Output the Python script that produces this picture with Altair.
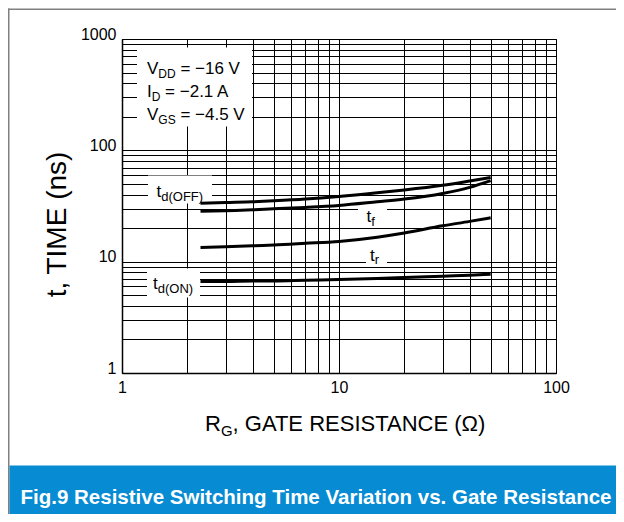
import altair as alt
import pandas as pd

# ---------------- data ----------------
R_G = [2.3, 3, 4, 5, 7, 10, 15, 20, 30, 40, 50]
t_d_off = [33.5, 34.0, 34.5, 35.2, 36.5, 38.5, 41.5, 44.0, 48.5, 53.0, 57.0]
t_f = [28.3, 28.7, 29.2, 29.8, 30.7, 32.0, 34.5, 36.5, 41.0, 46.5, 53.5]
t_r = [13.4, 13.6, 13.9, 14.1, 14.6, 15.2, 16.6, 18.1, 21.0, 23.0, 24.8]
t_d_on = [6.65, 6.65, 6.7, 6.7, 6.8, 6.9, 7.05, 7.2, 7.4, 7.55, 7.7]

x_grid = [1, 2, 3, 4, 5, 6, 7, 8, 9, 10, 20, 30, 40, 50, 60, 70, 80, 90, 100]
y_grid = [1, 2, 3, 4, 5, 6, 7, 8, 9, 10, 20, 30, 40, 50, 60, 70, 80, 90,
          100, 200, 300, 400, 500, 600, 700, 800, 900, 1000]
x_labels = [1, 10, 100]
y_labels = [1, 10, 100, 1000]

conditions = [("V", "DD", " = \u221216 V"), ("I", "D", " = \u22122.1 A"), ("V", "GS", " = \u22124.5 V")]
caption = "Fig.9 Resistive Switching Time Variation vs. Gate Resistance"

rows = []
for name, vals in [("td_off", t_d_off), ("tf", t_f), ("tr", t_r), ("td_on", t_d_on)]:
    for r, t in zip(R_G, vals):
        rows.append({"series": name, "R": r, "t": t})
df = pd.DataFrame(rows)

FONT = "Liberation Sans"
OX, OY = 122, 38.5  # page position of the plot origin

# Arial-compatible advance widths (1/1000 em)
W = {" ": 278, "=": 584, "\u2212": 584, ".": 278, ",": 278, "(": 333, ")": 333,
     "A": 667, "C": 722, "D": 722, "E": 667, "F": 611, "G": 778, "I": 278, "M": 833,
     "N": 722, "O": 778, "R": 722, "S": 667, "T": 611, "V": 667,
     "d": 556, "f": 278, "r": 333, "t": 278, "n": 556, "s": 500, "\u03a9": 768}


def tw(s, size):
    return sum(W.get(c, 556) for c in s) * size / 1000.0


one = alt.Data(values=[{"k": 1}])


def text(s, px, py, size, color="black", align="left", bold=False, angle=None):
    kw = dict(text=s, font=FONT, fontSize=size, align=align,
              baseline="alphabetic", color=color)
    if bold:
        kw["fontWeight"] = "bold"
    if angle is not None:
        kw["angle"] = angle
    return alt.Chart(one).mark_text(**kw).encode(x=alt.value(px - OX), y=alt.value(py - OY))


def rich(parts, px, py, size, sub_size, sub_dy):
    out = []
    x = px
    for s, is_sub in parts:
        sz = sub_size if is_sub else size
        lead = len(s) - len(s.lstrip(" "))
        x += tw(" " * lead, sz)
        s = s.lstrip(" ")
        out.append(text(s, x, py + (sub_dy if is_sub else 0), sz))
        x += tw(s, sz)
    return out


def box(x1, x2, y1, y2, color="white"):
    return alt.Chart(one).mark_rect(color=color).encode(
        x=alt.value(x1 - OX), x2=alt.value(x2 - OX),
        y=alt.value(y1 - OY), y2=alt.value(y2 - OY))


x_axis = alt.Axis(values=x_grid, grid=True, gridColor="#000", gridWidth=1, gridOpacity=1,
                  ticks=False, tickSize=0, domainColor="#000", domainWidth=1.5,
                  labelFont=FONT, labelFontSize=16, labelColor="#000", labelPadding=6,
                  labelOverlap=False, labelFlush=False, format="d", title=None,
                  labelExpr="indexof([1,10,100], datum.value) >= 0 ? datum.label : ''")
y_axis = alt.Axis(values=y_grid, grid=True, gridColor="#000", gridWidth=1, gridOpacity=1,
                  ticks=False, tickSize=0, domainColor="#000", domainWidth=1.5,
                  labelFont=FONT, labelFontSize=16, labelColor="#000", labelPadding=6,
                  labelBaseline="alphabetic", labelOverlap=False, labelFlush=False,
                  format="d", title=None,
                  labelExpr="indexof([1,10,100,1000], datum.value) >= 0 ? datum.label : ''")

lines = alt.Chart(df).mark_line(color="black", strokeWidth=3, interpolate="monotone", clip=True).encode(
    x=alt.X("R:Q", scale=alt.Scale(type="log", domain=[1, 100], nice=False), axis=x_axis),
    y=alt.Y("t:Q", scale=alt.Scale(type="log", domain=[1, 1000], nice=False), axis=y_axis),
    detail="series:N",
)

layers = []
# white label boxes hiding the grid
layers += [box(137, 252, 47, 126), box(148, 212, 175, 203), box(147, 200, 268, 297),
           box(358, 387, 206, 225), box(366, 387, 246, 265)]
layers.append(lines)

# conditions block
for (a, b, c), base in zip(conditions, [73.5, 96.5, 119.5]):
    layers += rich([(a, False), (b, True), (c, False)], 147, base, 17, 12, 3.5)

# curve labels
layers += rich([("t", False), ("d(OFF)", True)], 156.5, 196, 17, 13, 4)
layers += rich([("t", False), ("d(ON)", True)], 153, 288, 17, 13, 4)
layers += rich([("t", False), ("f", True)], 366.5, 221.5, 17, 13, 3.5)
layers += rich([("t", False), ("r", True)], 370, 260, 17, 13, 3.5)

# axis titles
layers.append(text("t, TIME (ns)", 66, 224, 28, align="center", angle=270))
layers += rich([("R", False), ("G", True), (", GATE RESISTANCE (\u03a9)", False)], 205, 430, 22, 15, 5)

# outer frame (top and left) and caption banner
frame_left = alt.Chart(one).mark_rule(color="#808080", strokeWidth=1.5).encode(
    x=alt.value(8.75 - OX), y=alt.value(8 - OY), y2=alt.value(520 - OY))
frame_top = alt.Chart(one).mark_rule(color="#808080", strokeWidth=1.5).encode(
    x=alt.value(8 - OX), x2=alt.value(620 - OX), y=alt.value(8.75 - OY))
layers += [frame_left, frame_top]
layers.append(box(9.5, 620, 465, 520, color="#078bd3"))
layers.append(text(caption, 316, 503, 20.5, color="white", align="center", bold=True))

chart = alt.layer(*layers).properties(
    width=434, height=334,
    autosize=alt.AutoSizeParams(type="none"),
    padding={"left": 114, "top": 31, "right": 60, "bottom": 141},
    background="white",
).configure_view(stroke="#000", strokeWidth=1)

chart.save("out.html", embed_options={"renderer": "svg", "actions": False})
